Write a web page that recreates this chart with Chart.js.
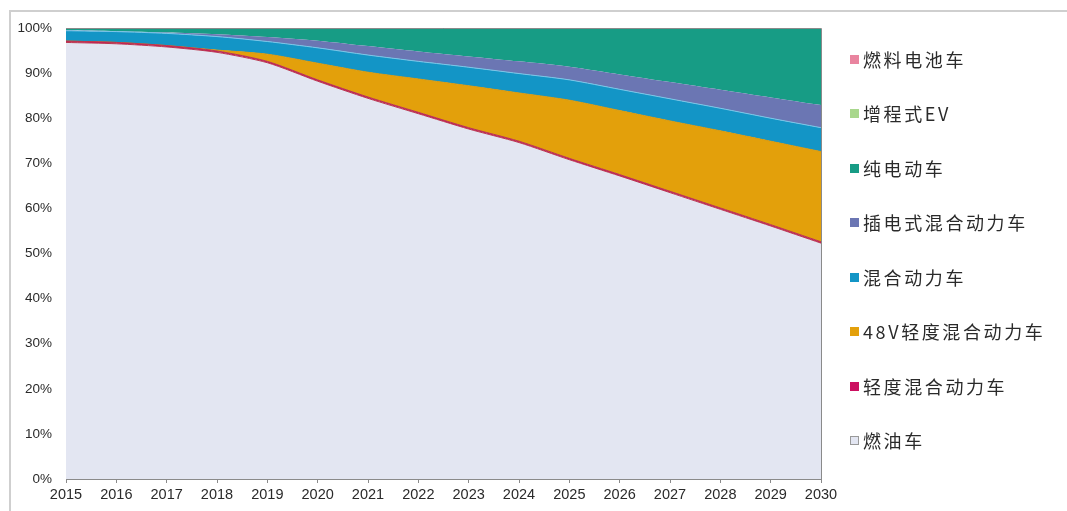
<!DOCTYPE html>
<html>
<head>
<meta charset="utf-8">
<script src="https://cdn.jsdelivr.net/npm/chart.js@4.4.1/dist/chart.umd.min.js"></script>
<style>
  html,body{margin:0;padding:0;background:#fff;}
  #wrap{position:relative;width:1067px;height:511px;overflow:hidden;}
  #frame{position:absolute;left:9px;top:10px;width:1070px;height:520px;border-top:2px solid #cfcfcf;border-left:2px solid #cfcfcf;}
  #chart{position:absolute;left:0;top:0;}
  #legend{position:absolute;left:850px;top:0;}
  .lg{position:absolute;white-space:nowrap;font-family:"Noto Sans CJK SC",sans-serif;font-size:18px;letter-spacing:2.6px;color:#2a2a2a;line-height:20px;}
  .lg i{position:absolute;left:0;top:6px;width:9px;height:9px;}
  .lg span{position:absolute;left:13px;top:0;}
</style>
</head>
<body>
<div id="wrap">
  <div id="frame"></div>
  <canvas id="chart" width="1067" height="511"></canvas>
  <div id="legend"></div>
</div>
<script>
const years=['2015','2016','2017','2018','2019','2020','2021','2022','2023','2024','2025','2026','2027','2028','2029','2030'];
// shares in %, bottom of the stack first
const fuel      =[96.8,96.5,95.8,94.6,92.3,88.2,84.4,81.0,77.6,74.6,70.8,67.2,63.5,59.8,56.1,52.3];
const mildHyb   =[0.3,0.3,0.3,0.3,0.3,0.3,0.3,0.3,0.3,0.3,0.3,0.3,0.3,0.3,0.3,0.3];
const mild48v   =[0,0,0,0.2,1.6,3.7,5.5,7.4,9.3,10.7,12.9,14.2,15.6,17.1,18.5,20.0];
const hybrid    =[2.3,2.4,2.7,3.0,2.8,3.4,3.8,3.9,4.1,4.3,4.5,4.7,4.9,5.0,5.1,5.3];
const phev      =[0.1,0.1,0.2,0.5,1.0,1.6,2.0,2.2,2.4,2.7,2.9,3.3,3.7,4.1,4.6,5.0];
const bev       =[0.5,0.7,1.0,1.4,2.0,2.8,4.0,5.2,6.3,7.4,8.6,10.3,12.0,13.7,15.3,16.9];
const erev      =[0,0,0,0,0,0,0,0,0,0,0,0,0,0,0,0];
const fuelCell  =[0,0,0,0,0,0,0,0,0,0,0,0,0,0,0.1,0.2];
const yTicks=[0,10,20,30,40,50,60,70,80,90,100];

const names=['燃油车','轻度混合动力车','48V轻度混合动力车','混合动力车','插电式混合动力车','纯电动车','增程式EV','燃料电池车'];
const colors=['#e3e6f2','#cc1060','#e3a00b','#1395c6','#6b76b3','#179c85','#a8d78c','#e9849f'];
const edges=['#b8384f','#b8384f','#d89a10','#7cc6e8','#6b76b3','#179c85','#a8d78c','#e9849f'];
const series=[fuel,mildHyb,mild48v,hybrid,phev,bev,erev,fuelCell];

const plotBorder={
  id:'plotBorder',
  afterDatasetsDraw(c){
    const a=c.chartArea, ctx=c.ctx;
    ctx.save();
    ctx.strokeStyle='#8a8a8a';ctx.lineWidth=1;
    ctx.beginPath();
    ctx.moveTo(a.left,a.top+0.5);ctx.lineTo(a.right+0.5,a.top+0.5);ctx.lineTo(a.right+0.5,a.bottom);
    ctx.stroke();
    ctx.restore();
  }
};

new Chart(document.getElementById('chart'),{
  type:'line',
  data:{
    labels:years,
    datasets:series.map((d,i)=>({
      label:names[i],
      data:d,
      backgroundColor:colors[i],
      borderColor:edges[i],
      borderWidth:(i<4)?1:0,
      fill:i===0?'origin':'-1',
      pointRadius:0,
      tension:0.25
    }))
  },
  options:{
    responsive:false,
    animation:false,
    layout:{padding:{left:10,top:28,right:246,bottom:2}},
    plugins:{legend:{display:false},tooltip:{enabled:false}},
    scales:{
      x:{
        offset:false,
        grid:{display:true,drawOnChartArea:false,color:'#8a8a8a',tickLength:4},
        border:{display:true,color:'#8a8a8a',width:1},
        ticks:{color:'#2a2a2a',font:{family:'Liberation Sans',size:14.5},padding:3,maxRotation:0,autoSkip:false},
        afterFit(s){s.height=30;}
      },
      y:{
        stacked:true,min:0,max:100,
        afterBuildTicks(s){s.ticks=yTicks.map(v=>({value:v}));},
        grid:{display:false,drawTicks:false},
        border:{display:true,color:'#8a8a8a',width:1},
        ticks:{color:'#2a2a2a',font:{family:'Liberation Sans',size:13.5},padding:14,callback:v=>v+'%'},
        afterFit(s){s.width=56;}
      }
    }
  },
  plugins:[plotBorder]
});

// legend, top series first
const lg=document.getElementById('legend');
const legendY=[49,103,158,212,267,321,376,430];
names.slice().reverse().forEach((n,k)=>{
  const i=names.length-1-k;
  const el=document.createElement('div');
  el.className='lg';
  el.style.top=legendY[k]+'px';
  const box=document.createElement('i');
  box.style.background=colors[i];
  if(i===0) box.style.border='1px solid #999', box.style.width='7px', box.style.height='7px';
  const t=document.createElement('span');
  t.textContent=n;
  el.appendChild(box);el.appendChild(t);
  lg.appendChild(el);
});
</script>
</body>
</html>
